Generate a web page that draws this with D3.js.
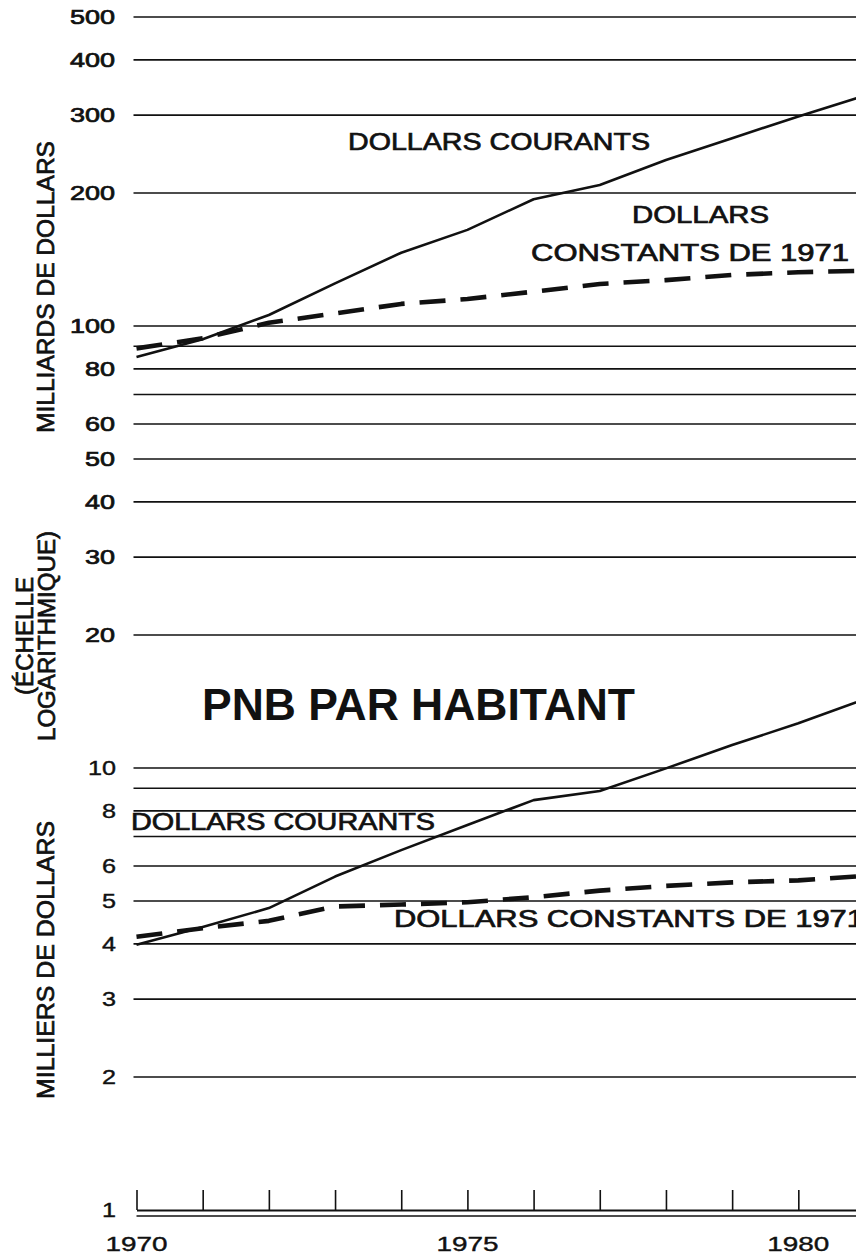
<!DOCTYPE html>
<html>
<head>
<meta charset="utf-8">
<script src="https://cdn.jsdelivr.net/npm/d3@7"></script>
<style>
  body { margin: 0; background: #fff; }
  svg { display: block; }
  text { font-family: "Liberation Sans", Arial, Helvetica, sans-serif; fill: #111; }
  text.heavy { stroke: #111; stroke-width: 0.7px; }
</style>
</head>
<body>
<script>
var width = 856,
    height = 1256;

// years on the x axis
var years = [1970, 1971, 1972, 1973, 1974, 1975, 1976, 1977, 1978, 1979, 1980, 1981];
var yearLabels = [1970, 1975, 1980];

// PNB, milliards de dollars
var pnbCourants = [85.1, 93.3, 105.9, 124.9, 146.5, 165, 193.5, 208.5, 237.5, 266, 298, 332];
var pnbConstants = [89.0, 93.8, 101.7, 106.8, 112.2, 115.1, 119.6, 124.5, 127, 130.5, 132.3, 133.4];

// PNB par habitant, milliers de dollars
var habCourants = [3.98, 4.37, 4.82, 5.68, 6.52, 7.43, 8.46, 8.87, 9.98, 11.27, 12.62, 14.3];
var habConstants = [4.15, 4.34, 4.51, 4.86, 4.91, 4.97, 5.10, 5.28, 5.41, 5.51, 5.57, 5.70];

// grid lines and tick labels of the log scale
var gridTop = [500, 400, 300, 200, 100, 90, 80, 70, 60, 50, 40, 30, 20];
var gridBottom = [10, 9, 8, 7, 6, 5, 4, 3, 2];
var labelsTop = [500, 400, 300, 200, 100, 80, 60, 50, 40, 30, 20];
var labelsBottom = [10, 8, 6, 5, 4, 3, 2, 1];

var svg = d3.select("body").append("svg")
    .attr("width", width)
    .attr("height", height);

svg.append("rect")
    .attr("width", width)
    .attr("height", height)
    .attr("fill", "#fff");

var x = d3.scaleLinear()
    .domain([1970, 1981])
    .range([136.5, 864.5]);

var y = d3.scaleLog()
    .domain([1, 1000])
    .range([1210, -116]);

var gridLeft = x(1970) - 3;

/* grid lines */
svg.append("g")
    .selectAll("line")
    .data(gridTop.concat(gridBottom))
    .enter()
    .append("line")
    .attr("x1", gridLeft)
    .attr("x2", width)
    .attr("y1", function (d) { return y(d); })
    .attr("y2", function (d) { return y(d); })
    .attr("stroke", "#111")
    .attr("stroke-width", 1.6);

/* tick labels on the left */
function digitsWidth(d) {
    return String(d).length * 15;
}

svg.append("g")
    .selectAll("text")
    .data(labelsTop)
    .enter()
    .append("text")
    .attr("class", "heavy")
    .attr("x", 115)
    .attr("y", function (d) { return y(d); })
    .attr("dy", "0.36em")
    .attr("text-anchor", "end")
    .attr("font-size", 20)
    .attr("textLength", digitsWidth)
    .attr("lengthAdjust", "spacingAndGlyphs")
    .text(function (d) { return d; });

svg.append("g")
    .selectAll("text")
    .data(labelsBottom)
    .enter()
    .append("text")
    .attr("x", 116)
    .attr("y", function (d) { return y(d); })
    .attr("dy", "0.36em")
    .attr("text-anchor", "end")
    .attr("font-size", 20)
    .attr("textLength", function (d) { return String(d).length * 14; })
    .attr("lengthAdjust", "spacingAndGlyphs")
    .style("stroke", "#111")
    .style("stroke-width", "0.4px")
    .text(function (d) { return d; });

/* x axis, ticks pointing up */
var xAxis = d3.axisTop(x)
    .tickValues(years)
    .tickSize(20)
    .tickSizeOuter(0)
    .tickFormat("");

var gx = svg.append("g")
    .attr("transform", "translate(0," + y(1) + ")")
    .call(xAxis);
gx.selectAll("path, line")
    .attr("stroke", "#111")
    .attr("stroke-width", 1.6);
gx.select(".domain").attr("stroke-width", 2);

svg.append("line")
    .attr("x1", x(1970))
    .attr("x2", width)
    .attr("y1", y(1) + 6)
    .attr("y2", y(1) + 6)
    .attr("stroke", "#111")
    .attr("stroke-width", 1.5);

svg.append("g")
    .selectAll("text")
    .data(yearLabels)
    .enter()
    .append("text")
    .attr("x", function (d) { return x(d); })
    .attr("y", 1251)
    .attr("text-anchor", "middle")
    .attr("font-size", 20)
    .attr("textLength", 62)
    .attr("lengthAdjust", "spacingAndGlyphs")
    .style("stroke", "#111")
    .style("stroke-width", "0.4px")
    .text(function (d) { return d; });

/* the four lines */
var line = d3.line()
    .x(function (d) { return x(d.year); })
    .y(function (d) { return y(d.value); });

function pairs(values) {
    return years.map(function (yr, i) { return { year: yr, value: values[i] }; });
}

var series = [
    { values: pnbCourants, dashed: false },
    { values: pnbConstants, dashed: true },
    { values: habCourants, dashed: false },
    { values: habConstants, dashed: true }
];

svg.append("g")
    .selectAll("path")
    .data(series)
    .enter()
    .append("path")
    .attr("d", function (d) { return line(pairs(d.values)); })
    .attr("fill", "none")
    .attr("stroke", "#111")
    .attr("stroke-width", function (d) { return d.dashed ? 4.6 : 2.6; })
    .attr("stroke-dasharray", function (d) { return d.dashed ? "26,15" : null; })
    .attr("stroke-linejoin", "round");

/* texts inside the plot */
function label(txt, x0, y0, len, size, weight) {
    return svg.append("text")
        .attr("class", weight ? null : "heavy")
        .attr("x", x0)
        .attr("y", y0)
        .attr("font-size", size)
        .attr("font-weight", weight || "normal")
        .attr("textLength", len)
        .attr("lengthAdjust", "spacingAndGlyphs")
        .text(txt);
}

label("DOLLARS COURANTS", 348, 150, 302, 24);
label("DOLLARS", 632, 223, 137, 24);
label("CONSTANTS DE 1971", 531, 261, 318, 24);
label("PNB PAR HABITANT", 202, 720, 433, 44, "bold");
label("DOLLARS COURANTS", 131, 830, 304, 24);
label("DOLLARS CONSTANTS DE 1971", 394, 927, 470, 24);

/* rotated axis titles */
function vlabel(txt, cx, cy, len) {
    return svg.append("text")
        .attr("class", "heavy")
        .attr("transform", "translate(" + cx + "," + cy + ") rotate(-90)")
        .attr("text-anchor", "middle")
        .attr("font-size", 23)
        .attr("textLength", len)
        .attr("lengthAdjust", "spacingAndGlyphs")
        .text(txt);
}

vlabel("MILLIARDS DE DOLLARS", 54, 287, 292);
vlabel("(ÉCHELLE", 33, 636, 118);
vlabel("LOGARITHMIQUE)", 55, 636, 210);
vlabel("MILLIERS DE DOLLARS", 54, 960, 278);
</script>
</body>
</html>
